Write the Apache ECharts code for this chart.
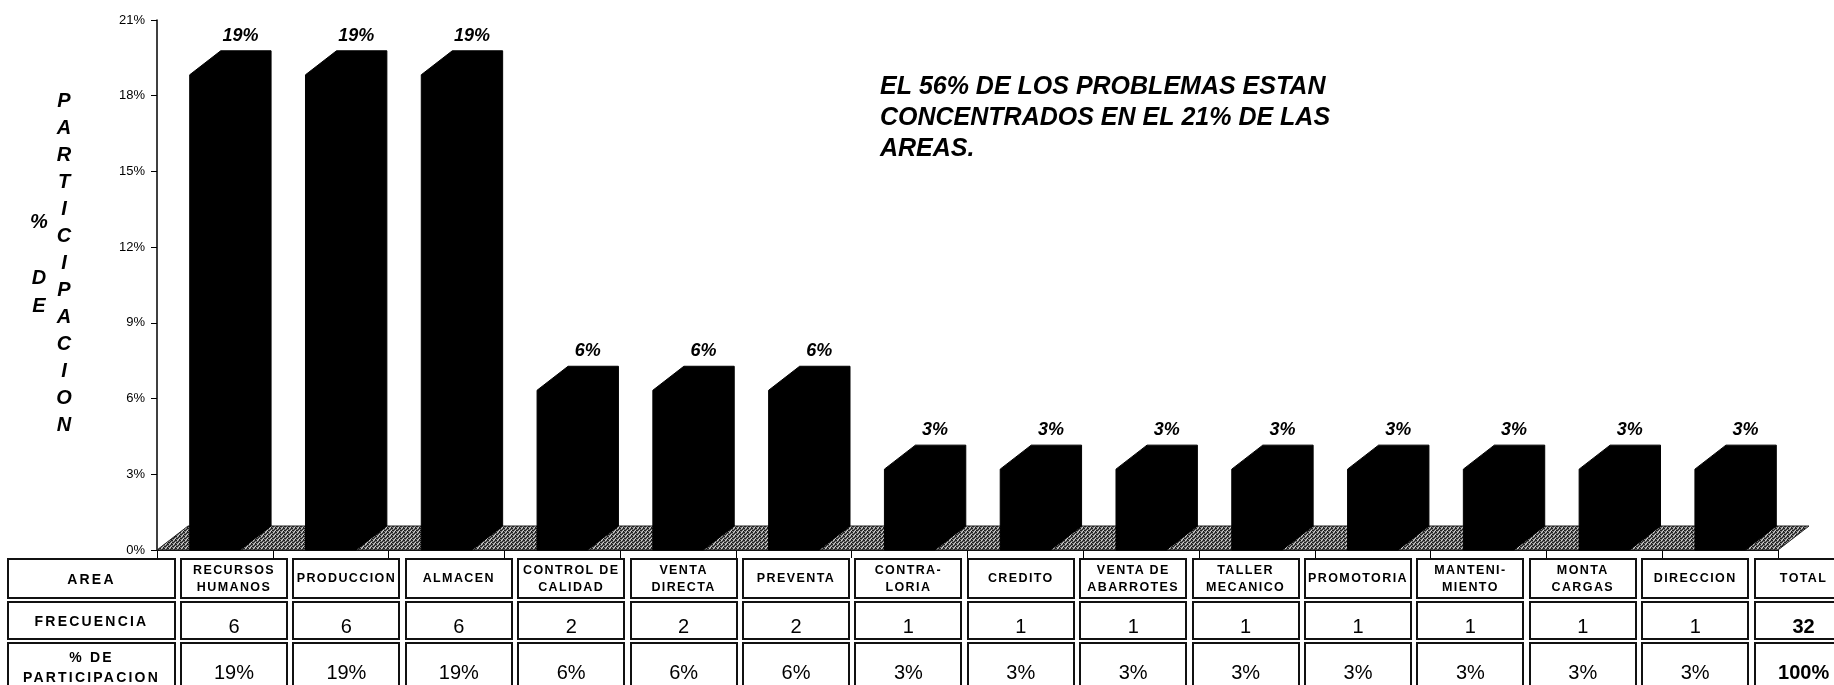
<!DOCTYPE html>
<html><head><meta charset="utf-8">
<script src="https://cdn.jsdelivr.net/npm/echarts@6/dist/echarts.min.js"></script>
<style>
html,body{margin:0;padding:0;background:#fff;overflow:hidden;}
#chart{position:absolute;left:0;top:0;width:1834px;height:685px;}
#tbl{position:absolute;left:0;top:0;width:1834px;height:685px;pointer-events:none;font-family:'Liberation Sans',Arial,sans-serif;color:#000;}
.cell{position:absolute;box-sizing:border-box;border:2px solid #111;display:flex;align-items:center;justify-content:center;text-align:center;}
.hdr{font-weight:bold;font-size:12.5px;letter-spacing:1.4px;line-height:17px;}
.rowh{font-weight:bold;font-size:14px;letter-spacing:2.2px;line-height:20px;}
.num{font-size:20px;padding-top:12px;}
.pct{font-size:20px;padding-top:10px;}
.bold{font-weight:bold;}
</style></head>
<body>
<div id="chart"></div>
<div id="tbl"></div>
<script>
// ---- data ----
const categories = ['RECURSOS HUMANOS','PRODUCCION','ALMACEN','CONTROL DE CALIDAD','VENTA DIRECTA','PREVENTA','CONTRALORIA','CREDITO','VENTA DE ABARROTES','TALLER MECANICO','PROMOTORIA','MANTENIMIENTO','MONTA CARGAS','DIRECCION'];
const tableHeaders = ['RECURSOS\nHUMANOS','PRODUCCION','ALMACEN','CONTROL DE\nCALIDAD','VENTA\nDIRECTA','PREVENTA','CONTRA-\nLORIA','CREDITO','VENTA DE\nABARROTES','TALLER\nMECANICO','PROMOTORIA','MANTENI-\nMIENTO','MONTA\nCARGAS','DIRECCION'];
const frequencies = [6,6,6,2,2,2,1,1,1,1,1,1,1,1];
const total = 32;
const participation = frequencies.map(f => f / total * 100);
const pctLabels = participation.map(p => Math.round(p) + '%');
const yTicks = [0,3,6,9,12,15,18,21];
const rowLabels = ['AREA','FRECUENCIA','% DE\nPARTICIPACION'];
const totalLabels = ['TOTAL', String(total), '100%'];
const note = 'EL 56% DE LOS PROBLEMAS ESTAN\nCONCENTRADOS EN EL 21% DE LAS\nAREAS.';

// ---- floor pattern ----
const pc = document.createElement('canvas');
pc.width = 4; pc.height = 4;
const pctx = pc.getContext('2d');
pctx.fillStyle = '#7c7c7c'; pctx.fillRect(0,0,4,4);
pctx.fillStyle = '#1e1e1e';
[[0,0],[2,1],[1,2],[3,3],[3,0],[0,2]].forEach(p => pctx.fillRect(p[0],p[1],1,1));
pctx.fillStyle = '#d0d0d0';
[[1,0],[3,2],[2,3]].forEach(p => pctx.fillRect(p[0],p[1],1,1));

const DEPTH_X = 31, DEPTH_Y = 24;
const FONT = "'Liberation Sans', Arial, sans-serif";

const chart = echarts.init(document.getElementById('chart'), null, {renderer:'canvas'});
chart.setOption({
  animation:false,
  backgroundColor:'#fff',
  grid:{left:157, right:56, top:20, bottom:135},
  xAxis:{type:'category', data:categories, boundaryGap:true,
    axisLine:{show:true, lineStyle:{color:'#000', width:1}},
    axisTick:{show:true, length:8, interval:0, lineStyle:{color:'#000'}},
    axisLabel:{show:false}, splitLine:{show:false}},
  yAxis:{type:'value', min:yTicks[0], max:yTicks[yTicks.length-1], interval:yTicks[1]-yTicks[0],
    axisLine:{show:true, lineStyle:{color:'#000', width:1.5}},
    axisTick:{show:true, length:6, lineStyle:{color:'#000'}},
    axisLabel:{formatter:'{value}%', color:'#000', fontSize:13, fontFamily:FONT, margin:12},
    splitLine:{show:false}},
  series:[
    {type:'custom', z:1, data:[[0,0]], renderItem:function(params, api){
      const cs = params.coordSys;
      const b = api.coord([0,0])[1];
      const x0 = cs.x, x1 = cs.x + cs.width;
      return {type:'polygon', shape:{points:[[x0,b],[x1,b],[x1+DEPTH_X,b-DEPTH_Y],[x0+DEPTH_X,b-DEPTH_Y]]},
        style:{fill:{image:pc, repeat:'repeat'}, stroke:'#222', lineWidth:1}};
    }},
    {type:'custom', z:2, data:participation.map((v,i)=>[i,v]), renderItem:function(params, api){
      const i = api.value(0), v = api.value(1);
      const base = api.coord([i,0]);
      const top = api.coord([i,v]);
      const band = api.size([1,0])[0];
      const fw = band*0.435;
      const L = base[0] - fw/2, R = L + fw + DEPTH_X;
      const B = base[1], T = top[1] - 2;
      const ly = T - DEPTH_Y - 15;
      return {type:'group', children:[
        {type:'polygon', shape:{points:[[L,B],[L,T],[L+DEPTH_X,T-DEPTH_Y],[R,T-DEPTH_Y],[R,B-DEPTH_Y],[L+fw,B]]},
          style:{fill:'#000', stroke:'#000', lineWidth:1}},
        {type:'text', style:{text:pctLabels[params.dataIndex], x:L+(fw+DEPTH_X)/2+10, y:ly,
          textAlign:'center', textVerticalAlign:'middle', fill:'#000',
          font:'italic bold 18px ' + FONT}}
      ]};
    }}
  ],
  graphic:[
    {type:'text', left:880, top:72, style:{text:note, font:'italic bold 25px ' + FONT, fill:'#000', lineHeight:31}},
    {type:'text', x:64, y:88, style:{text:'PARTICIPACION'.split('').join('\n'), font:'italic bold 20px ' + FONT, fill:'#000', lineHeight:27, textAlign:'center'}},
    {type:'text', x:39, y:208, style:{text:'%\n \nD\nE', font:'italic bold 20px ' + FONT, fill:'#000', lineHeight:28, textAlign:'center'}}
  ]
});

// ---- data table ----
const tbl = document.getElementById('tbl');
const rowTops = [558, 601, 642];
const rowHeights = [41, 39, 50];
const firstLeft = 7, firstWidth = 169;
const colLeft0 = 180, colPitch = 112.4, colWidth = 108;
function addCell(x, y, w, h, text, cls){
  const d = document.createElement('div');
  d.className = 'cell ' + cls;
  d.style.left = x + 'px'; d.style.top = y + 'px';
  d.style.width = w + 'px'; d.style.height = h + 'px';
  d.innerHTML = text.split('\n').join('<br>');
  tbl.appendChild(d);
}
const rowCls = ['hdr','num','pct'];
rowLabels.forEach((lab, r) => addCell(firstLeft, rowTops[r], firstWidth, rowHeights[r], lab, 'rowh'));
tableHeaders.forEach((h, i) => {
  const x = colLeft0 + i*colPitch;
  addCell(x, rowTops[0], colWidth, rowHeights[0], h, 'hdr');
  addCell(x, rowTops[1], colWidth, rowHeights[1], String(frequencies[i]), 'num');
  addCell(x, rowTops[2], colWidth, rowHeights[2], pctLabels[i], 'pct');
});
totalLabels.forEach((t, r) => {
  const x = colLeft0 + tableHeaders.length*colPitch;
  addCell(x, rowTops[r], 100, rowHeights[r], t, r === 0 ? 'hdr' : rowCls[r] + ' bold');
});
</script>
</body></html>
